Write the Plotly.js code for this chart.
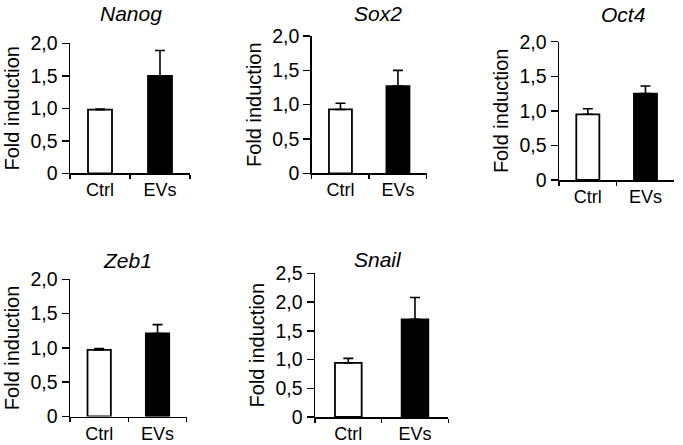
<!DOCTYPE html>
<html>
<head>
<meta charset="utf-8">
<script src="https://cdn.plot.ly/plotly-3.0.1.min.js"></script>
<style>html,body{margin:0;padding:0;background:#fff;}#chart{width:683px;height:445px;}</style>
</head>
<body>
<div id="chart"></div>
<script>
// ---- data ----
const categories = ["Ctrl", "EVs"];
const genes = ["Nanog", "Sox2", "Oct4", "Zeb1", "Snail"];
const nanogValues = [0.98, 1.50];
const nanogErrors = [0.01, 0.39];
const sox2Values = [0.93, 1.27];
const sox2Errors = [0.09, 0.23];
const oct4Values = [0.95, 1.25];
const oct4Errors = [0.08, 0.11];
const zeb1Values = [0.97, 1.21];
const zeb1Errors = [0.02, 0.13];
const snailValues = [0.94, 1.70];
const snailErrors = [0.08, 0.38];
const yTickVals2 = [0, 0.5, 1, 1.5, 2];
const yTickText2 = ["0", "0,5", "1,0", "1,5", "2,0"];
const yTickVals25 = [0, 0.5, 1, 1.5, 2, 2.5];
const yTickText25 = ["0", "0,5", "1,0", "1,5", "2,0", "2,5"];
const yTitle = "Fold induction";

// ---- layout helpers (pixel boxes -> paper fractions) ----
const W = 683, H = 445;
const FONT = "Liberation Sans, Arial, Helvetica, sans-serif";
const px = v => v / W;
const py = v => 1 - v / H;

const panels = [
  {gene: genes[0], vals: nanogValues, errs: nanogErrors, box: [70, 190, 43.3, 173.3], ymax: 2, tv: yTickVals2, tt: yTickText2, title: [131, 14]},
  {gene: genes[1], vals: sox2Values, errs: sox2Errors, box: [311.7, 426.7, 36, 173.3], ymax: 2, tv: yTickVals2, tt: yTickText2, title: [377.5, 14]},
  {gene: genes[2], vals: oct4Values, errs: oct4Errors, box: [559, 674.3, 41.7, 180], ymax: 2, tv: yTickVals2, tt: yTickText2, title: [622.5, 15]},
  {gene: genes[3], vals: zeb1Values, errs: zeb1Errors, box: [70, 186.7, 279.3, 416.5], ymax: 2, tv: yTickVals2, tt: yTickText2, title: [127.5, 260]},
  {gene: genes[4], vals: snailValues, errs: snailErrors, box: [315, 448.3, 273.3, 417], ymax: 2.5, tv: yTickVals25, tt: yTickText25, title: [378, 259]}
];

const traces = [];
const layout = {
  width: W, height: H,
  margin: {l: 0, r: 0, t: 0, b: 0},
  paper_bgcolor: "#fff", plot_bgcolor: "#fff",
  showlegend: false,
  bargap: 0.6,
  font: {family: FONT, color: "#000", size: 18},
  annotations: []
};

panels.forEach((p, i) => {
  const n = i + 1;
  const xa = "xaxis" + (n === 1 ? "" : n);
  const ya = "yaxis" + (n === 1 ? "" : n);
  traces.push({
    type: "bar",
    x: categories,
    y: p.vals,
    xaxis: "x" + (n === 1 ? "" : n),
    yaxis: "y" + (n === 1 ? "" : n),
    marker: {color: ["#ffffff", "#000000"], line: {color: "#000", width: 1.8}},
    error_y: {type: "data", symmetric: false, array: p.errs, arrayminus: [0, 0], color: "#000", thickness: 1.6, width: 5},
    hoverinfo: "x+y"
  });
  layout[xa] = {
    domain: [px(p.box[0]), px(p.box[1])],
    anchor: "y" + (n === 1 ? "" : n),
    type: "category",
    tickson: "boundaries",
    ticks: "outside", ticklen: 4, tickwidth: 1.5, tickcolor: "#000",
    showline: true, linecolor: "#000", linewidth: 1.5,
    showgrid: false, zeroline: false,
    tickfont: {family: FONT, size: 18, color: "#000"},
    fixedrange: true
  };
  layout[ya] = {
    domain: [py(p.box[3]), py(p.box[2])],
    anchor: "x" + (n === 1 ? "" : n),
    range: [0, p.ymax],
    tickvals: p.tv, ticktext: p.tt,
    ticks: "outside", ticklen: 7, tickwidth: 1.5, tickcolor: "#000",
    showline: true, linecolor: "#000", linewidth: 1.5,
    showgrid: false, zeroline: false,
    tickfont: {family: FONT, size: 19.5, color: "#000"},
    title: {text: yTitle, font: {family: FONT, size: 20, color: "#000"}, standoff: 5},
    fixedrange: true
  };
  layout.annotations.push({
    xref: "paper", yref: "paper",
    x: px(p.title[0]), y: py(p.title[1]),
    xanchor: "center", yanchor: "middle",
    text: "<i>" + p.gene + "</i>",
    showarrow: false,
    font: {family: FONT, size: 21, color: "#000"}
  });
});

Plotly.newPlot("chart", traces, layout, {displayModeBar: false, staticPlot: true});
</script>
</body>
</html>
